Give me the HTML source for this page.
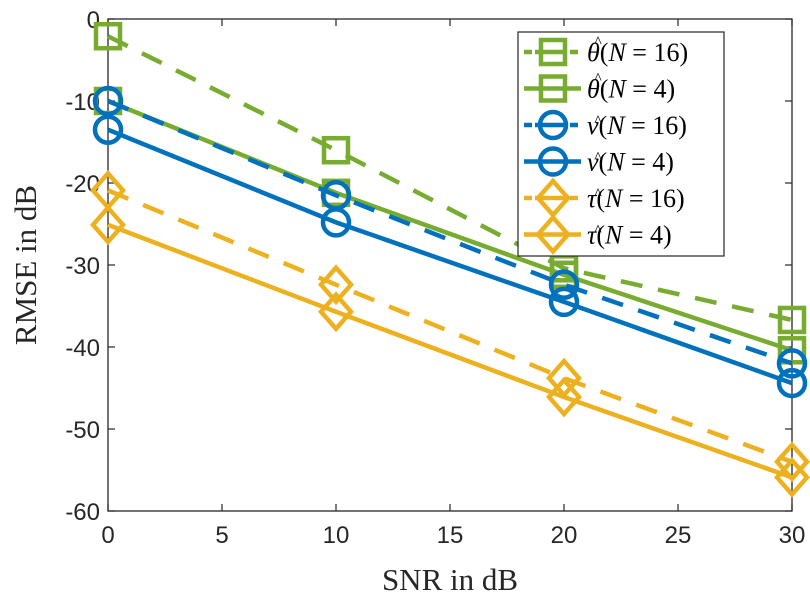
<!DOCTYPE html>
<html><head><meta charset="utf-8"><style>body{margin:0;background:#fff}svg{display:block}</style></head>
<body>
<svg id="chart" width="810" height="607" xmlns="http://www.w3.org/2000/svg"></svg>
<script>
const snr = [0, 10, 20, 30];
const thetaN16 = [-2.1, -16, -30.4, -36.7];
const thetaN4 = [-10, -21.2, -31.2, -40.4];
const nuN16 = [-10, -21.5, -32.4, -42];
const nuN4 = [-13.5, -24.8, -34.5, -44.4];
const tauN16 = [-20.9, -32.4, -43.8, -54];
const tauN4 = [-25.1, -35.7, -46.1, -55.9];
const xTicks = [0, 5, 10, 15, 20, 25, 30];
const yTicks = [0, -10, -20, -30, -40, -50, -60];

const L=108,R=792,T=19,B=511;
const sx=v=>L+(v-0)/30*(R-L);
const sy=v=>T+(0-v)/60*(B-T);
const svg=document.getElementById('chart');
const NS='http://www.w3.org/2000/svg';
function mk(tag,attrs,parent){const e=document.createElementNS(NS,tag);for(const k in attrs)e.setAttribute(k,attrs[k]);(parent||svg).appendChild(e);return e;}

const box=mk('rect',{x:L,y:T,width:R-L,height:B-T,fill:'none',stroke:'#262626','stroke-width':1.3});


xTicks.forEach(t=>{
  const x=sx(t);
  mk('line',{x1:x,x2:x,y1:B,y2:B-7,stroke:'#262626','stroke-width':1.2});
  mk('line',{x1:x,x2:x,y1:T,y2:T+7,stroke:'#262626','stroke-width':1.2});
  const tx=mk('text',{x:x,y:B+32,'text-anchor':'middle','font-family':'Liberation Sans, sans-serif','font-size':24,fill:'#262626'});
  tx.textContent=t;
  
  
});
yTicks.forEach(t=>{
  const y=sy(t);
  mk('line',{x1:L,x2:L+7,y1:y,y2:y,stroke:'#262626','stroke-width':1.2});
  mk('line',{x1:R,x2:R-7,y1:y,y2:y,stroke:'#262626','stroke-width':1.2});
  const tx=mk('text',{x:L-8,y:y+9,'text-anchor':'end','font-family':'Liberation Sans, sans-serif','font-size':24,fill:'#262626'});
  tx.textContent=t;
  
  
});
const xt=mk('text',{x:450,y:590,'text-anchor':'middle','font-family':'Liberation Serif, serif','font-size':31,fill:'#262626'});
xt.textContent='SNR in dB';


const yt=mk('text',{x:0,y:0,'text-anchor':'middle','font-family':'Liberation Serif, serif','font-size':31,fill:'#262626',transform:'translate(36,265) rotate(-90)'});
yt.textContent='RMSE in dB';



const G='#77AC30',Bl='#0072BD',O='#EDB120';
function marker(type,x,y,color,g){
  if(type==='s') mk('rect',{x:x-12,y:y-12,width:24,height:24,fill:'none',stroke:color,'stroke-width':4.5},g);
  else if(type==='o') mk('circle',{cx:x,cy:y,r:13,fill:'none',stroke:color,'stroke-width':4.5},g);
  else mk('polygon',{points:`${x},${y-17} ${x+15},${y} ${x},${y+17} ${x-15},${y}`,fill:'none',stroke:color,'stroke-width':4.5},g);
}
const series=[
 {name:'theta-n16',d:thetaN16,c:G,m:'s',dash:true,sym:'θ',n:'16',hatDy:-19},
 {name:'theta-n4',d:thetaN4,c:G,m:'s',dash:false,sym:'θ',n:'4',hatDy:-19},
 {name:'nu-n16',d:nuN16,c:Bl,m:'o',dash:true,sym:'ν',n:'16',hatDy:-13},
 {name:'nu-n4',d:nuN4,c:Bl,m:'o',dash:false,sym:'ν',n:'4',hatDy:-13},
 {name:'tau-n16',d:tauN16,c:O,m:'d',dash:true,sym:'τ',n:'16',hatDy:-13},
 {name:'tau-n4',d:tauN4,c:O,m:'d',dash:false,sym:'τ',n:'4',hatDy:-13}
];
series.forEach(s=>{
  const g=mk('g',{});
  
  
  const pts=s.d.map((v,i)=>sx(snr[i])+','+sy(v)).join(' ');
  const a={points:pts,fill:'none',stroke:s.c,'stroke-width':4.5};
  if(s.dash)a['stroke-dasharray']='22,16';
  mk('polyline',a,g);
  s.d.forEach((v,i)=>marker(s.m,sx(snr[i]),sy(v),s.c,g));
});
const lg=mk('g',{});


mk('rect',{x:518,y:32,width:206,height:224,fill:'#fff',stroke:'#262626','stroke-width':1.2},lg);
series.forEach((s,i)=>{
  const y=52+i*36.5;
  const e=mk('g',{},lg);
  
  
  const a={x1:524,x2:581,y1:y,y2:y,stroke:s.c,'stroke-width':4.5};
  if(s.dash)a['stroke-dasharray']='8,3,32,3,8';
  mk('line',a,e);
  marker(s.m,553,y,s.c,e);
  const t=mk('text',{x:587,y:y+9,'font-family':'Liberation Serif, serif','font-size':26,fill:'#000'},e);
  const t1=mk('tspan',{'font-style':'italic'},t); t1.textContent=s.sym;
  const t2=mk('tspan',{},t); t2.textContent='(';
  const t3=mk('tspan',{'font-style':'italic'},t); t3.textContent='N';
  const t4=mk('tspan',{},t); t4.textContent=' = '+s.n+')';
  const h=mk('text',{x:598,y:y+9+s.hatDy+5,'text-anchor':'middle','font-family':'Liberation Serif, serif','font-size':16,fill:'#000'},e);
  h.textContent='^';
});
</script>
</body></html>
